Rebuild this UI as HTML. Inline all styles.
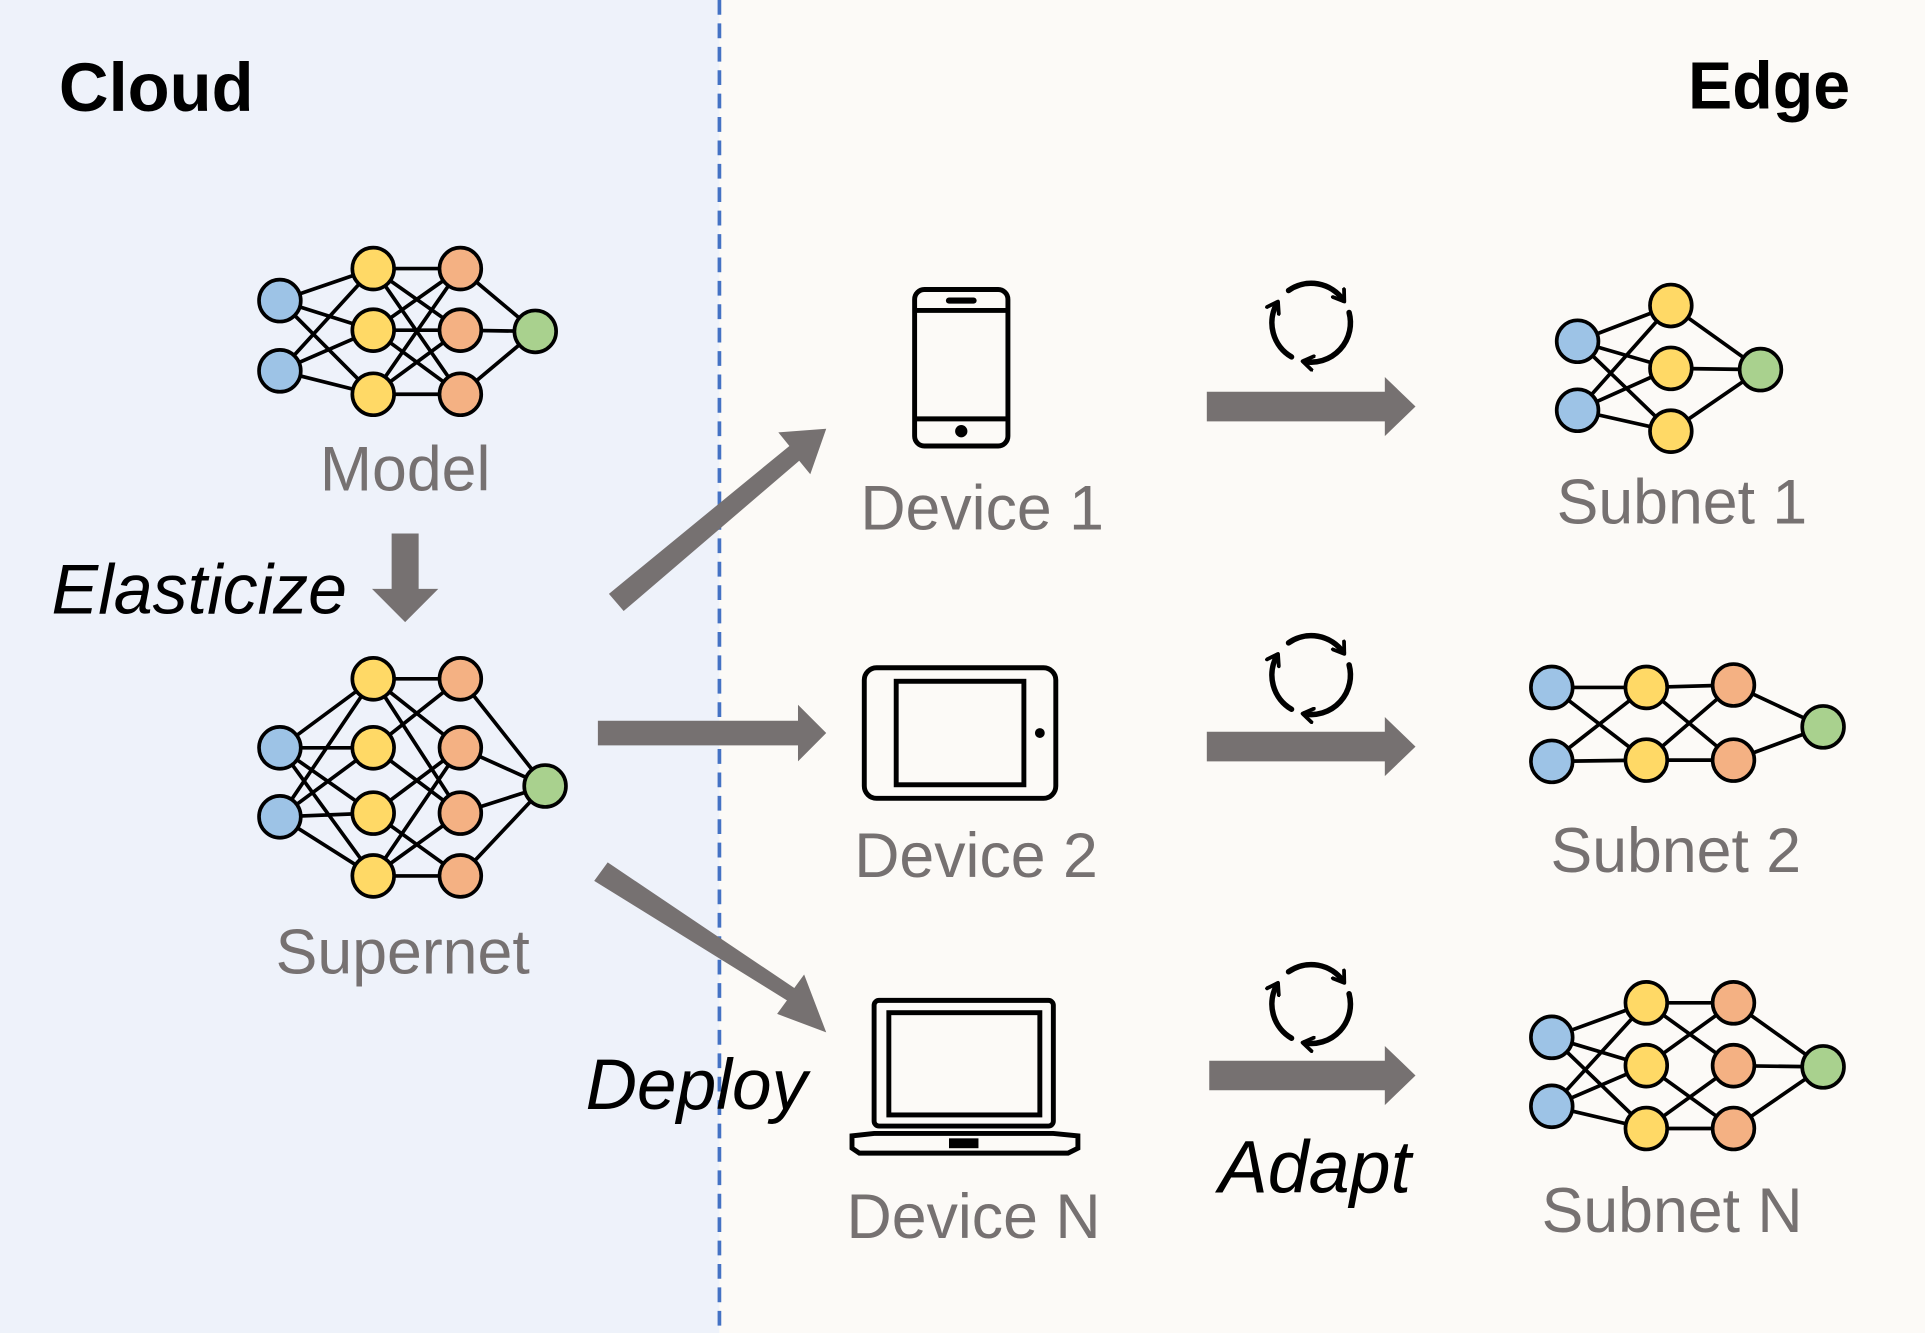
<!DOCTYPE html>
<html><head><meta charset="utf-8"><style>
html,body{margin:0;padding:0;background:#fff}
svg{display:block}
text{font-family:"Liberation Sans",sans-serif}
</style></head><body>
<svg width="1925" height="1333" viewBox="0 0 1568 1082" preserveAspectRatio="none" xmlns="http://www.w3.org/2000/svg">
<defs>
<marker id="ah" viewBox="0 0 10 10" refX="6" refY="5" markerWidth="14" markerHeight="14" markerUnits="userSpaceOnUse" orient="auto"><path d="M1 1L7 5L1 9" fill="none" stroke="#000" stroke-width="2.2" stroke-linecap="round" stroke-linejoin="round"/></marker>
<g id="rf" fill="none" stroke="#000" stroke-width="4.5" stroke-linecap="round" marker-end="url(#ah)">
<path d="M-18.4 -26.2A32 32 0 0 1 26.2 -18.4"/>
<path d="M30.9 -8.3A32 32 0 0 1 -5.6 31.5"/>
<path d="M-16 27.7A32 32 0 0 1 -27.7 -16"/>
</g>
</defs>
<rect x="0" y="0" width="586" height="1082" fill="#EEF2FA"/>
<rect x="586" y="0" width="982" height="1082" fill="#FCFAF7"/>
<line x1="586" y1="0" x2="586" y2="1082" stroke="#4472C4" stroke-width="3" stroke-dasharray="12,7"/>
<text x="48" y="90" font-size="56" font-weight="bold">Cloud</text>
<text x="1507" y="88" font-size="54" font-weight="bold" text-anchor="end">Edge</text>

<g stroke="#000" stroke-width="3" fill="none">
<path d="M228 244L304 218M228 244L304 268M228 244L304 320M228 301L304 218M228 301L304 268M228 301L304 320M304 218L375 218M304 218L375 268M304 218L375 320M304 268L375 218M304 268L375 268M304 268L375 320M304 320L375 218M304 320L375 268M304 320L375 320M375 218L436 269M375 268L436 269M375 320L436 269"/>
<path d="M228 607L304 551M228 607L304 607M228 607L304 660M228 607L304 711M228 663L304 551M228 663L304 607M228 663L304 660M228 663L304 711M304 551L375 551M304 551L375 607M304 607L375 551M304 607L375 660M304 660L375 607M304 660L375 711M304 711L375 660M304 711L375 711M304 551L375 660M304 711L375 607M375 551L444 638M375 607L444 638M375 660L444 638M375 711L444 638"/>
<path d="M1285 277L1361 248M1285 277L1361 299M1285 277L1361 350M1285 333L1361 248M1285 333L1361 299M1285 333L1361 350M1361 248L1434 300M1361 299L1434 300M1361 350L1434 300"/>
<path d="M1264 558L1341 558M1264 558L1341 617M1264 618L1341 558M1264 618L1341 617M1341 558L1412 556M1341 558L1412 617M1341 617L1412 556M1341 617L1412 617M1412 556L1485 590M1412 617L1485 590"/>
<path d="M1264 842L1341 814M1264 842L1341 865M1264 842L1341 916M1264 898L1341 814M1264 898L1341 865M1264 898L1341 916M1341 814L1412 814M1341 814L1412 865M1341 865L1412 814M1341 865L1412 916M1341 916L1412 865M1341 916L1412 916M1412 814L1485 866M1412 865L1485 866M1412 916L1485 866"/>
</g>
<g stroke="#000" stroke-width="3">
<g fill="#9DC3E6"><circle cx="228" cy="244" r="17"/><circle cx="228" cy="301" r="17"/><circle cx="228" cy="607" r="17"/><circle cx="228" cy="663" r="17"/><circle cx="1285" cy="277" r="17"/><circle cx="1285" cy="333" r="17"/><circle cx="1264" cy="558" r="17"/><circle cx="1264" cy="618" r="17"/><circle cx="1264" cy="842" r="17"/><circle cx="1264" cy="898" r="17"/></g>
<g fill="#FFD966"><circle cx="304" cy="218" r="17"/><circle cx="304" cy="268" r="17"/><circle cx="304" cy="320" r="17"/><circle cx="304" cy="551" r="17"/><circle cx="304" cy="607" r="17"/><circle cx="304" cy="660" r="17"/><circle cx="304" cy="711" r="17"/><circle cx="1361" cy="248" r="17"/><circle cx="1361" cy="299" r="17"/><circle cx="1361" cy="350" r="17"/><circle cx="1341" cy="558" r="17"/><circle cx="1341" cy="617" r="17"/><circle cx="1341" cy="814" r="17"/><circle cx="1341" cy="865" r="17"/><circle cx="1341" cy="916" r="17"/></g>
<g fill="#F4B183"><circle cx="375" cy="218" r="17"/><circle cx="375" cy="268" r="17"/><circle cx="375" cy="320" r="17"/><circle cx="375" cy="551" r="17"/><circle cx="375" cy="607" r="17"/><circle cx="375" cy="660" r="17"/><circle cx="375" cy="711" r="17"/><circle cx="1412" cy="556" r="17"/><circle cx="1412" cy="617" r="17"/><circle cx="1412" cy="814" r="17"/><circle cx="1412" cy="865" r="17"/><circle cx="1412" cy="916" r="17"/></g>
<g fill="#A9D18E"><circle cx="436" cy="269" r="17"/><circle cx="444" cy="638" r="17"/><circle cx="1434" cy="300" r="17"/><circle cx="1485" cy="590" r="17"/><circle cx="1485" cy="866" r="17"/></g>
</g>

<g fill="#767171" font-size="51" text-anchor="middle">
<text x="330" y="398">Model</text>
<text x="328" y="790">Supernet</text>
<text x="800" y="430">Device 1</text>
<text x="795" y="712">Device 2</text>
<text x="793" y="1005">Device N</text>
<text x="1370" y="425">Subnet 1</text>
<text x="1365" y="708">Subnet 2</text>
<text x="1362" y="1000">Subnet N</text>
</g>
<g font-style="italic" fill="#000">
<text x="42" y="498" font-size="57">Elasticize</text>
<text x="477" y="900" font-size="58">Deploy</text>
<text x="1071" y="968" font-size="60" text-anchor="middle">Adapt</text>
</g>

<g fill="#767171">
<polygon points="319,433 341,433 341,478 357,478 330,505 303,478 319,478"/>
<polygon points="496,482 643,362 634,351 673,348 660,385 651,374 508,496"/>
<polygon points="487,585 650,585 650,572 673,595 650,618 650,605 487,605"/>
<polygon points="484,715 495,700 647,802 655,791 673,838 633,823 641,812"/>
<polygon points="983,318 1128,318 1128,306 1153,330 1128,354 1128,342 983,342"/>
<polygon points="983,594 1128,594 1128,582 1153,606 1128,630 1128,618 983,618"/>
<polygon points="985,861 1128,861 1128,849 1153,873 1128,897 1128,885 985,885"/>
</g>

<g fill="none" stroke="#000" stroke-width="4">
<rect x="745" y="235" width="76" height="127" rx="8"/>
<line x1="745" y1="252" x2="821" y2="252"/><line x1="745" y1="340" x2="821" y2="340"/>
<line x1="773" y1="244" x2="793" y2="244" stroke-width="5" stroke-linecap="round"/>
<rect x="704" y="542" width="156" height="106" rx="10"/>
<rect x="730" y="553" width="104" height="84"/>
<rect x="712" y="812" width="146" height="102" rx="4"/>
<rect x="724" y="822" width="123" height="83"/>
<path d="M712 920L858 920L878 922L878 932L870 936L700 936L694 932L694 922Z"/>
</g>
<circle cx="783" cy="350" r="5" fill="#000"/>
<circle cx="847" cy="595" r="4" fill="#000"/>
<rect x="773" y="924" width="24" height="8" fill="#000"/>

<use href="#rf" transform="translate(1068 262)"/>
<use href="#rf" transform="translate(1068 548)"/>
<use href="#rf" transform="translate(1068 815)"/>
</svg>
</body></html>
